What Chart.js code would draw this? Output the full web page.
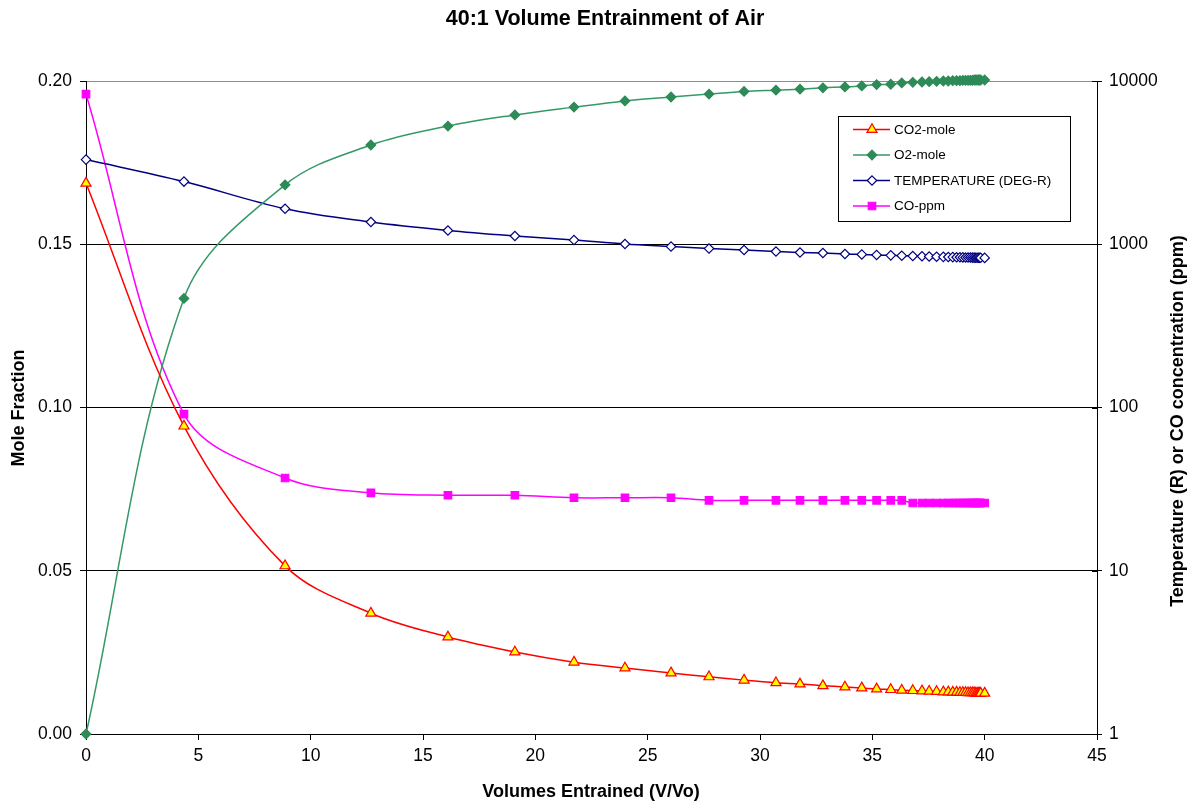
<!DOCTYPE html>
<html>
<head>
<meta charset="utf-8">
<script src="https://cdn.jsdelivr.net/npm/chart.js@4.4.1/dist/chart.umd.min.js"></script>
<style>
  html, body { margin: 0; padding: 0; background: #ffffff; }
  #wrap { width: 1192px; height: 807px; }
</style>
</head>
<body>
<div id="wrap"><canvas id="c" width="1192" height="807"></canvas></div>
<script>
// ---- Data ----
const volumesEntrained = [0, 4.36, 8.86, 12.68, 16.11, 19.09, 21.72, 23.99, 26.04, 27.73,
  29.29, 30.71, 31.78, 32.80, 33.78, 34.53, 35.19, 35.82, 36.31, 36.80,
  37.21, 37.53, 37.86, 38.16, 38.38, 38.58, 38.75, 38.90, 39.03, 39.15,
  39.26, 39.36, 39.45, 39.53, 39.60, 39.66, 39.72, 39.77, 39.82, 40.00];

const co2Mole = [0.1687, 0.0943, 0.0515, 0.0370, 0.0297, 0.0251, 0.0220, 0.0202, 0.0187, 0.0175,
  0.0165, 0.0157, 0.0153, 0.0148, 0.0144, 0.0141, 0.0138, 0.0136, 0.0134, 0.0133,
  0.0132, 0.0131, 0.0130, 0.0129, 0.0129, 0.0128, 0.0128, 0.0127, 0.0127, 0.0127,
  0.0126, 0.0126, 0.0126, 0.0126, 0.0125, 0.0125, 0.0125, 0.0125, 0.0125, 0.0125];

const o2Mole = [0.0000, 0.1334, 0.1682, 0.1804, 0.1862, 0.1896, 0.1920, 0.1939, 0.1951, 0.1960,
  0.1968, 0.1972, 0.1975, 0.1979, 0.1982, 0.1985, 0.1989, 0.1990, 0.1994, 0.1996,
  0.1997, 0.1998, 0.1999, 0.2000, 0.2000, 0.2001, 0.2001, 0.2001, 0.2002, 0.2002,
  0.2002, 0.2002, 0.2002, 0.2003, 0.2003, 0.2003, 0.2003, 0.2003, 0.2003, 0.2003];

const temperatureR = [3300, 2420, 1650, 1368, 1214, 1123, 1061, 1003, 968, 941,
  922, 903, 890, 884, 871, 866, 860, 855, 851, 847,
  844, 841, 839, 837, 835, 834, 833, 832, 831, 830,
  829, 829, 828, 828, 827, 827, 826, 826, 826, 825];

const coPpm = [8300, 91, 37, 30, 29, 29, 28, 28, 28, 27,
  27, 27, 27, 27, 27, 27, 27, 27, 27, 26,
  26, 26, 26, 26, 26, 26, 26, 26, 26, 26,
  26, 26, 26, 26, 26, 26, 26, 26, 26, 26];

const xTickValues = [0, 5, 10, 15, 20, 25, 30, 35, 40, 45];
const moleTickValues = [0, 0.05, 0.10, 0.15, 0.20];
const logTickValues = [1, 10, 100, 1000, 10000];

const seriesNames = ['CO2-mole', 'O2-mole', 'TEMPERATURE (DEG-R)', 'CO-ppm'];
const chartTitle = '40:1 Volume Entrainment of Air';
const xTitle = 'Volumes Entrained (V/Vo)';
const leftTitle = 'Mole Fraction';
const rightTitle = 'Temperature (R) or CO concentration (ppm)';

// ---- Build chart ----
const pts = (arr) => volumesEntrained.map((x, i) => ({ x: x, y: arr[i] }));
const FONT = '"Liberation Sans", Arial, sans-serif';

const styles = [
  { line: '#FF0000', fill: '#FFFF00', border: '#FF0000', pointStyle: 'triangle', radius: 5.8 },
  { line: '#339966', fill: '#2E8B57', border: '#2E8B57', pointStyle: 'rectRot', radius: 4.8 },
  { line: '#000080', fill: '#FFFFFF', border: '#000080', pointStyle: 'rectRot', radius: 4.7 },
  { line: '#FF00FF', fill: '#FF00FF', border: '#FF00FF', pointStyle: 'rect', radius: 5.3 }
];

function ds(i, arr, axis) {
  const s = styles[i];
  return {
    label: seriesNames[i],
    data: pts(arr),
    yAxisID: axis,
    borderColor: s.line,
    borderWidth: 1.5,
    backgroundColor: s.fill,
    pointBackgroundColor: s.fill,
    pointBorderColor: s.border,
    pointBorderWidth: 1.2,
    pointStyle: s.pointStyle,
    pointRadius: s.radius,
    pointHoverRadius: s.radius,
    tension: 0.35,
    fill: false,
    clip: false
  };
}

function drawShape(ctx, style, r, x, y) {
  if (style === 'triangle') {
    ctx.moveTo(x, y - r);
    ctx.lineTo(x + r * Math.sqrt(3) / 2, y + r / 2);
    ctx.lineTo(x - r * Math.sqrt(3) / 2, y + r / 2);
    ctx.closePath();
  } else if (style === 'rectRot') {
    ctx.moveTo(x, y - r);
    ctx.lineTo(x + r, y);
    ctx.lineTo(x, y + r);
    ctx.lineTo(x - r, y);
    ctx.closePath();
  } else {
    const h = r * Math.SQRT1_2;
    ctx.rect(x - h, y - h, 2 * h, 2 * h);
  }
}

const overlay = {
  id: 'overlay',
  afterDraw(chart) {
    const ctx = chart.ctx;
    ctx.save();
    ctx.fillStyle = '#000';
    // Title
    ctx.font = 'bold 21.5px ' + FONT;
    ctx.textAlign = 'center';
    ctx.textBaseline = 'middle';
    ctx.fillText(chartTitle, 605, 19);
    // X title
    ctx.font = 'bold 18px ' + FONT;
    ctx.fillText(xTitle, 591, 792);
    // Left title
    ctx.save();
    ctx.translate(19, 408);
    ctx.rotate(-Math.PI / 2);
    ctx.fillText(leftTitle, 0, 0);
    ctx.restore();
    // Right title (reads bottom to top)
    ctx.save();
    ctx.translate(1178, 421);
    ctx.rotate(-Math.PI / 2);
    ctx.fillText(rightTitle, 0, 0);
    ctx.restore();

    // Right axis cross ticks (inner part)
    const r = chart.scales.y2;
    ctx.strokeStyle = '#000';
    ctx.lineWidth = 1;
    logTickValues.forEach(v => {
      const y = Math.round(r.getPixelForValue(v)) + 0.5;
      ctx.beginPath();
      ctx.moveTo(r.left - 5, y);
      ctx.lineTo(r.left, y);
      ctx.stroke();
    });

    // Legend
    const bx = 838.5, by = 116.5, bw = 232, bh = 105;
    ctx.fillStyle = '#fff';
    ctx.fillRect(bx, by, bw, bh);
    ctx.strokeStyle = '#000';
    ctx.lineWidth = 1;
    ctx.strokeRect(bx, by, bw, bh);
    const rowsY = [129.5, 155, 180.5, 206];
    ctx.font = '13.5px ' + FONT;
    ctx.textAlign = 'left';
    ctx.textBaseline = 'middle';
    seriesNames.forEach((name, i) => {
      const s = styles[i];
      const y = rowsY[i];
      ctx.strokeStyle = s.line;
      ctx.lineWidth = 1.5;
      ctx.beginPath();
      ctx.moveTo(853, y);
      ctx.lineTo(890, y);
      ctx.stroke();
      ctx.fillStyle = s.fill;
      ctx.strokeStyle = s.border;
      ctx.lineWidth = 1.2;
      ctx.beginPath();
      drawShape(ctx, s.pointStyle, s.radius, 872, y);
      ctx.fill();
      ctx.stroke();
      ctx.fillStyle = '#000';
      ctx.fillText(name, 894, y + 0.5);
    });
    ctx.restore();
  }
};

new Chart(document.getElementById('c'), {
  type: 'line',
  data: {
    datasets: [
      ds(0, co2Mole, 'y'),
      ds(1, o2Mole, 'y'),
      ds(2, temperatureR, 'y2'),
      ds(3, coPpm, 'y2')
    ]
  },
  options: {
    responsive: false,
    animation: false,
    devicePixelRatio: 1,
    layout: { padding: { top: 81, right: 0, left: 0, bottom: 0 } },
    plugins: { legend: { display: false }, title: { display: false }, tooltip: { enabled: false } },
    scales: {
      x: {
        type: 'linear',
        min: 0, max: 45,
        afterBuildTicks: (s) => { s.ticks = xTickValues.map(v => ({ value: v })); },
        afterFit: (s) => { s.height = 73; },
        border: { color: '#000', width: 1 },
        grid: { drawOnChartArea: false, drawTicks: true, tickLength: 6, color: '#000' },
        ticks: { color: '#000', font: { family: FONT, size: 17.5 }, padding: 6, maxRotation: 0, autoSkip: false,
          callback: (v) => String(v) }
      },
      y: {
        type: 'linear',
        position: 'left',
        min: 0, max: 0.2,
        afterBuildTicks: (s) => { s.ticks = moleTickValues.map(v => ({ value: v })); },
        afterFit: (s) => { s.width = 86; },
        border: { color: '#000', width: 1 },
        grid: {
          drawTicks: true, tickLength: 6, tickColor: '#000',
          color: (c) => (c.tick && Math.abs(c.tick.value - 0.2) < 1e-9) ? '#8c8c8c' : '#000',
          lineWidth: 1
        },
        ticks: { color: '#000', font: { family: FONT, size: 17.5 }, padding: 8, autoSkip: false,
          callback: (v) => Number(v).toFixed(2) }
      },
      y2: {
        type: 'logarithmic',
        position: 'right',
        min: 1, max: 10000,
        afterBuildTicks: (s) => { s.ticks = logTickValues.map(v => ({ value: v })); },
        afterFit: (s) => { s.width = 95; },
        border: { color: '#000', width: 1 },
        grid: { drawOnChartArea: false, drawTicks: true, tickLength: 5, color: '#000' },
        ticks: { color: '#000', font: { family: FONT, size: 17.5 }, padding: 7, autoSkip: false,
          callback: (v) => String(v) }
      }
    }
  },
  plugins: [overlay]
});
</script>
</body>
</html>
